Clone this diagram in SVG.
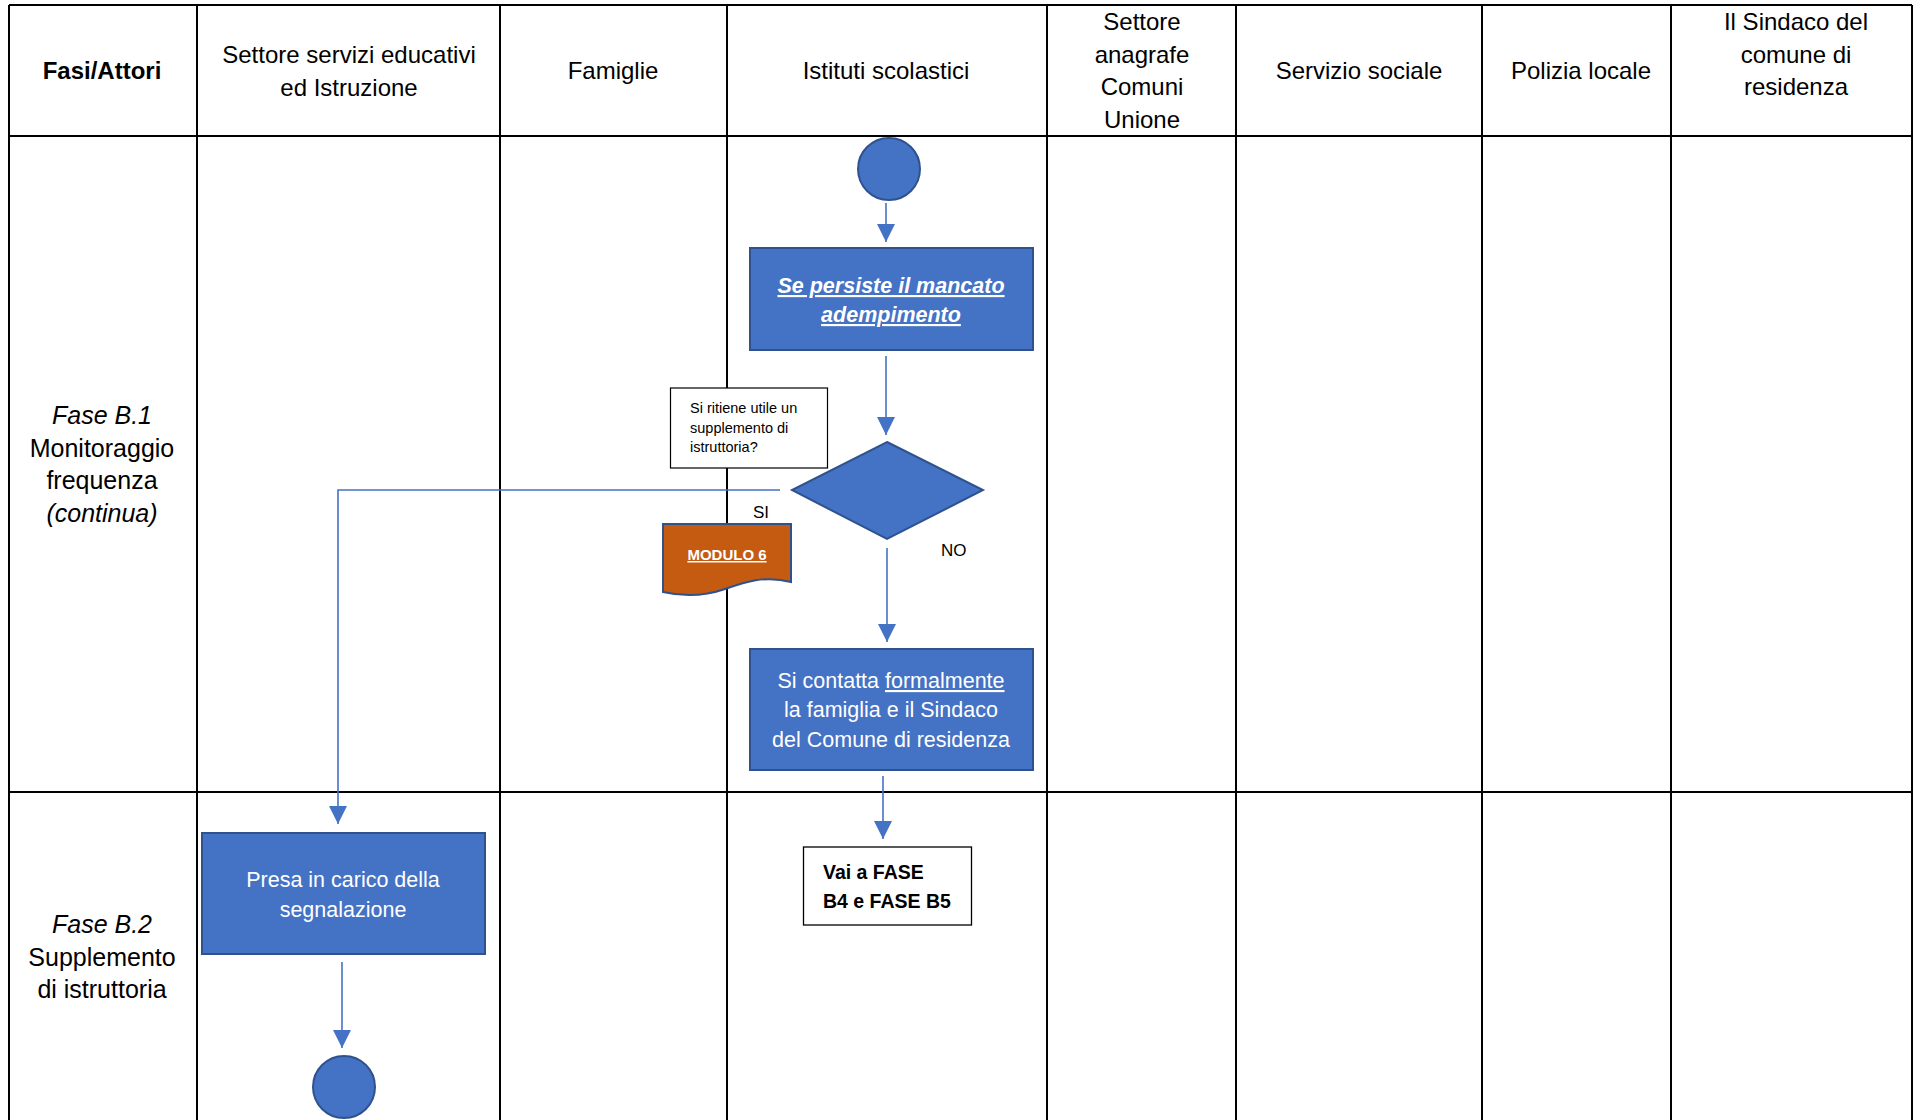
<svg xmlns="http://www.w3.org/2000/svg" width="1921" height="1120" viewBox="0 0 1921 1120">
<defs>
<style>
.grid{stroke:#000;stroke-width:2;fill:none}
.hd{font-family:"Liberation Sans",Arial,sans-serif;font-size:24px;fill:#000;text-anchor:middle}
.lbl{font-family:"Liberation Sans",Arial,sans-serif;font-size:25px;fill:#000;text-anchor:middle}
.box{fill:#4472C4;stroke:#2F528F;stroke-width:2}
.bt{font-family:"Liberation Sans",Arial,sans-serif;font-size:21.5px;fill:#fff;text-anchor:middle}
.conn{stroke:#4472C4;stroke-width:1.6;fill:none}
</style>
<marker id="arr" markerUnits="userSpaceOnUse" markerWidth="18" markerHeight="18" viewBox="0 0 16 16" refX="16" refY="8" orient="auto">
<path d="M0,0 L16,8 L0,16 Z" fill="#4472C4"/>
</marker>
</defs>
<rect width="1921" height="1120" fill="#fff"/>
<g id="table">
<path class="grid" d="M9,5 H1912 M9,136 H1912 M9,792 H1912 M9,5 V1120 M197,5 V1120 M500,5 V1120 M727,5 V1120 M1047,5 V1120 M1236,5 V1120 M1482,5 V1120 M1671,5 V1120 M1912,5 V1120"/>
<text class="hd" x="102" y="79" font-weight="bold">Fasi/Attori</text>
<text class="hd" x="349" y="63">Settore servizi educativi</text>
<text class="hd" x="349" y="95.5">ed Istruzione</text>
<text class="hd" x="613" y="79">Famiglie</text>
<text class="hd" x="886" y="79">Istituti scolastici</text>
<text class="hd" x="1142" y="30">Settore</text>
<text class="hd" x="1142" y="62.5">anagrafe</text>
<text class="hd" x="1142" y="95">Comuni</text>
<text class="hd" x="1142" y="127.5">Unione</text>
<text class="hd" x="1359" y="79">Servizio sociale</text>
<text class="hd" x="1581" y="79">Polizia locale</text>
<text class="hd" x="1796" y="30">Il Sindaco del</text>
<text class="hd" x="1796" y="62.5">comune di</text>
<text class="hd" x="1796" y="95">residenza</text>
<text class="lbl" x="102" y="424" font-style="italic">Fase B.1</text>
<text class="lbl" x="102" y="456.5">Monitoraggio</text>
<text class="lbl" x="102" y="489">frequenza</text>
<text class="lbl" x="102" y="521.5" font-style="italic">(continua)</text>
<text class="lbl" x="102" y="933" font-style="italic">Fase B.2</text>
<text class="lbl" x="102" y="965.5">Supplemento</text>
<text class="lbl" x="102" y="998">di istruttoria</text>
</g>
<g id="connectors">
<line class="conn" x1="886" y1="203" x2="886" y2="242" marker-end="url(#arr)"/>
<line class="conn" x1="886" y1="356" x2="886" y2="435" marker-end="url(#arr)"/>
<line class="conn" x1="887" y1="548" x2="887" y2="642" marker-end="url(#arr)"/>
<line class="conn" x1="883" y1="776" x2="883" y2="839" marker-end="url(#arr)"/>
<polyline class="conn" points="780,490 338,490 338,824" marker-end="url(#arr)"/>
<line class="conn" x1="342" y1="962" x2="342" y2="1048" marker-end="url(#arr)"/>
<text x="753" y="518" font-family="Liberation Sans,Arial,sans-serif" font-size="17" fill="#000">SI</text>
<text x="941" y="556" font-family="Liberation Sans,Arial,sans-serif" font-size="17" fill="#000">NO</text>
</g>
<g id="start">
<circle cx="889" cy="169" r="31" class="box"/>
</g>
<g id="persiste">
<rect class="box" x="750" y="248" width="283" height="102"/>
<text class="bt" x="891" y="293" font-weight="bold" font-style="italic" text-decoration="underline" font-size="20.5">Se persiste il mancato</text>
<text class="bt" x="891" y="322" font-weight="bold" font-style="italic" text-decoration="underline" font-size="20.5">adempimento</text>
</g>
<g id="question">
<rect x="670.5" y="388" width="157" height="80" fill="#fff" stroke="#000" stroke-width="1.2"/>
<text x="690" y="413" font-family="Liberation Sans,Arial,sans-serif" font-size="14.5" fill="#000">Si ritiene utile un</text>
<text x="690" y="433" font-family="Liberation Sans,Arial,sans-serif" font-size="14.5" fill="#000">supplemento di</text>
<text x="690" y="452" font-family="Liberation Sans,Arial,sans-serif" font-size="14.5" fill="#000">istruttoria?</text>
</g>
<g id="decision">
<polygon class="box" points="887,442 983,490 887,539 792,490"/>
</g>
<g id="modulo6">
<path d="M663,524 H791 V582 C765,575 745,582 725,589 C705,596 685,597 663,592 Z" fill="#C55A11" stroke="#2F528F" stroke-width="2"/>
<text x="727" y="560" font-family="Liberation Sans,Arial,sans-serif" font-size="15" font-weight="bold" fill="#fff" text-anchor="middle" text-decoration="underline">MODULO 6</text>
</g>
<g id="contatta">
<rect class="box" x="750" y="649" width="283" height="121"/>
<text class="bt" x="891" y="688" font-size="22.5">Si contatta <tspan text-decoration="underline">formalmente</tspan></text>
<text class="bt" x="891" y="717" font-size="22">la famiglia e il Sindaco</text>
<text class="bt" x="891" y="747" font-size="22">del Comune di residenza</text>
</g>
<g id="vai">
<rect x="803.5" y="847" width="168" height="78" fill="#fff" stroke="#000" stroke-width="1.3"/>
<text x="823" y="879" font-family="Liberation Sans,Arial,sans-serif" font-size="19.5" font-weight="bold" fill="#000">Vai a FASE</text>
<text x="823" y="908" font-family="Liberation Sans,Arial,sans-serif" font-size="19.5" font-weight="bold" fill="#000">B4 e FASE B5</text>
</g>
<g id="presa">
<rect class="box" x="202" y="833" width="283" height="121"/>
<text class="bt" x="343" y="887">Presa in carico della</text>
<text class="bt" x="343" y="917">segnalazione</text>
</g>
<g id="end">
<circle cx="344" cy="1087" r="31" class="box"/>
</g>
</svg>
